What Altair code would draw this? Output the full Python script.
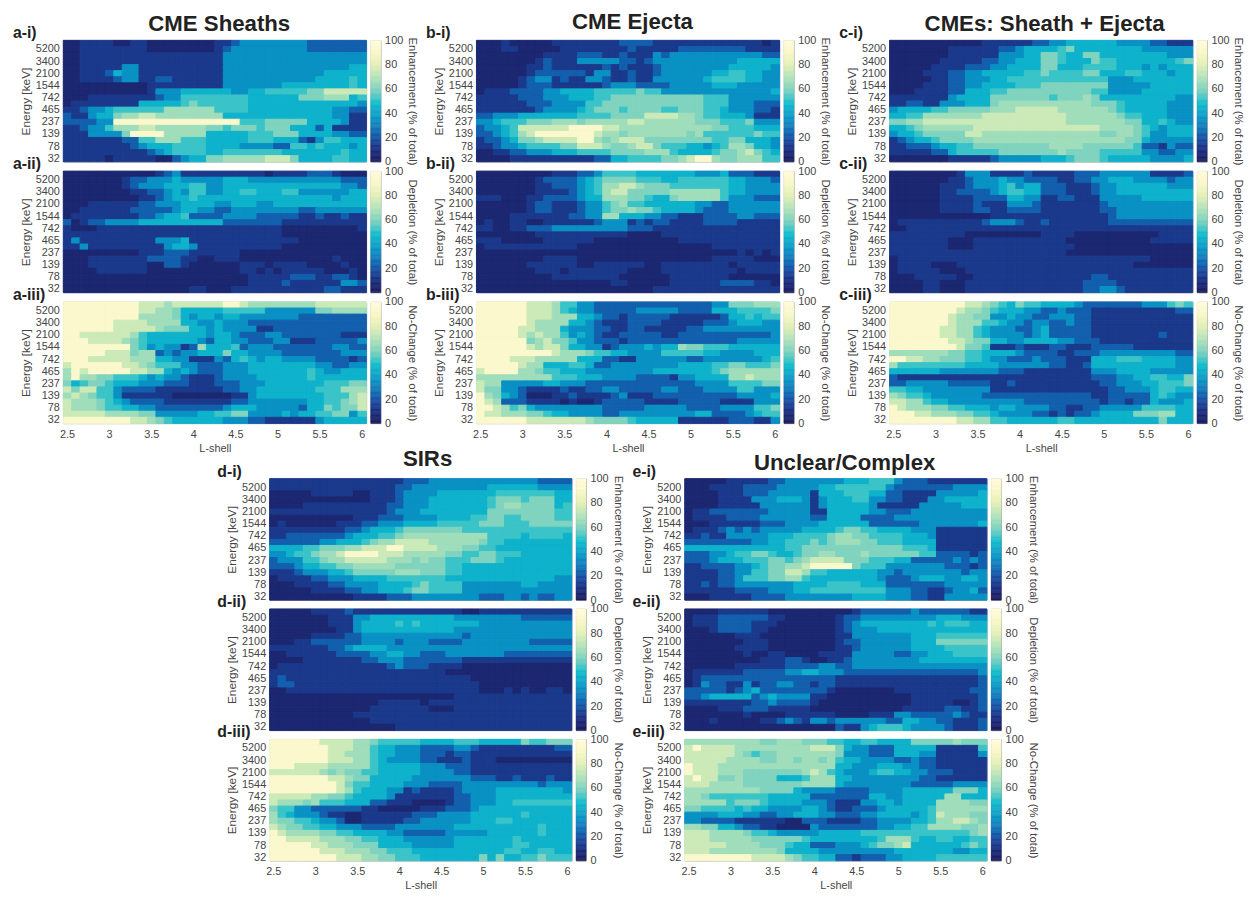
import altair as alt
import pandas as pd

LSHELL = [f"{2.5 + 0.1 * i:.1f}" for i in range(36)]
ENERGY = ["32","54","78","108","139","183","237","346","465","597","742","1079","1544","1728","2100","2600","3400","4200","5200","6300"]
ENERGY_TICKS = ["32","78","139","237","465","742","1544","2100","3400","5200"]
LSHELL_TICKS = ["2.5","3.0","3.5","4.0","4.5","5.0","5.5","6.0"]

# rows run from the highest energy to the lowest; each digit is a percent level
LEVEL_PERCENT = [6, 13, 23, 35, 45, 52, 60, 66, 75, 92]
A_I = [
"001111001100000000112333333332222222",
"001111111100000000123333333332222222",
"001111111111111111133333333333333333",
"001111111111111111133333333333333333",
"001111133111111111133333333333333344",
"001112433111111111133333333333344444",
"001111233112211111133333333333444454",
"000000000011111111133333334444444454",
"000000000013334444443344555556688888",
"000111111112335555555544444466677745",
"011111111444445655555544444444444443",
"112334555555777777555544444444443322",
"211344677887777777744444444444443311",
"222233999999999999999555666664444311",
"112335777887777776656665666444241111",
"111333369999777774444455566644443322",
"111111122557775554444455544421355444",
"111111112344455554444333322554544434",
"111111111123455554455555554444444544",
"111110111110023446677777888644445544",
]
A_II = [
"000000000001231111111111011112221000",
"000000012233343333344433333333333222",
"000000012333444553344444444444444332",
"000000001122343553344554445533333344",
"000000000112344544444444444444443444",
"000111111223334444334443344444444444",
"001111112222234433223333333322333333",
"011111111223445222233332222211211211",
"201223333444444444422222221111111111",
"100011111111111111111111110000000001",
"111111111111111111111111110000000000",
"131111111113334111111111111100000000",
"113111111111344311111111110000000000",
"000000000111222111111000000000000000",
"000111111122221100111000000000001000",
"000111111100221000000111011110000100",
"000011111100000000000110101111100010",
"000000000000000000000011111222112210",
"000000000000000000000011112111111332",
"000000000000000110001111111111122111",
]
A_III = [
"999999999888788888899877777777888888",
"999999999887764444455555333333667777",
"999999999777764344344333333322222222",
"999999888877774433433322222222222222",
"999999888887666443433331122222222222",
"998888887544444443443222332222222111",
"999888876544444432443322233111222223",
"999999996534331274445233322222223322",
"999998886772323344464433332222222333",
"999888887774433111324543443333222212",
"899999988765553322233344444444332233",
"798999998877434322233344444445433444",
"797766555434332111233334444445444444",
"645665444333222111222333444444455566",
"868855322221111111122334444444555777",
"787655311111100000001134444444455578",
"877765432222111111112233333334455678",
"877765544332222222234443333324465668",
"888887777663333344556633334344556635",
"999999998876544444433322111111344444",
]
B_I = [
"000100000111111112222111111111111101",
"000110000011111111211111222222221111",
"000000001111222112111323333333333322",
"000000012111333332212333333333344444",
"000000112111111212111233333333444443",
"000000122222213311211233333344554433",
"000001233121133211211333333455554433",
"000001222111111233322223333344433333",
"011122223344445555565533333333333334",
"111112223334445566666666666555333333",
"111111222333355666666666666555333222",
"111111123333456665666655666554333221",
"223334444444555566668888776554443111",
"334555666777677777887777776665556333",
"233458888889999887777777777766555444",
"223457899999998776777777767555555655",
"122346678888997678886666666655664443",
"112334555566888766788655544345776443",
"001122333444555566667775444456678654",
"000011111111112244555566789976677755",
]
B_II = [
"000000000111223555544444443334222111",
"000000012222345666655544555555443332",
"000000011222345778876665555555443333",
"000000011112345788666667777775443333",
"111000112222344777665446777775333222",
"000000122111233567554444443322333333",
"000000122111233566766544443222333333",
"000011111112233774443322111222233222",
"010011001111112333121221111222211111",
"110011222333333333222111111111111111",
"000000011111111111000011111111111111",
"111000001111110000000000111111111111",
"011111111111000000000000000011111111",
"000000000000000000000000000000010101",
"000000001111000000000000000011111000",
"000000111111001111110011111111011111",
"000000011101111111000011111111101111",
"000000000111111110000001111111000000",
"000000000000000011000001111112222110",
"000000000000000000000111111111111111",
]
B_III = [
"999999888755332222222222222233666777",
"999999888754332222233333222244455556",
"999999888777443221222221111112445455",
"999999877774432111222211111222344433",
"999998877743332211221111122333333333",
"999998787753432112222211222222222223",
"999999678665332221222222222222233333",
"999999878864433123334344766555444444",
"999999999877765544333355555443333444",
"999988877777444221133333322333333345",
"999998774445542233333333444455665556",
"899997765544433333333444444456777777",
"777777777555444333322221334444778777",
"877333334433322222222222223333555566",
"866332111121122332222233222333355333",
"976432000112111123111222222222233334",
"987222111101001222221111222221111333",
"998756433333333222223333322223333556",
"988777665443333223333333334422223455",
"999999888888876666544444111111222113",
]
C_I = [
"000000000001111112233444444333322111",
"000000011111122344445644444444333333",
"000000011111133344665446644444444333",
"000000111112233444665444655444444456",
"000001111222334444664445555444343444",
"000011122334444455655556644455444344",
"000001122333445555555555553334444444",
"000011122334444555666666663333344444",
"000111122444556666666666553333444444",
"111111134444666666656667644444444433",
"112211333444677777777777666544444333",
"344445566666777888887777776544444333",
"445577777778888888888777777655444333",
"667788888888888888888777777766445433",
"445677777788888888888888877776543444",
"344566666887777777777777766776533444",
"123445666677777777777777777766433333",
"112223445566666666677776666665221322",
"111112245555566666667666655555332233",
"000000011111233333444566654444433334",
]
C_II = [
"000000001333111121111122233333311112",
"000000011233343322221122334443333233",
"000000111233345344222111233444444333",
"000000112222345544222111233444444444",
"000000111122224433112211133333444444",
"000000111121113332111111123333333333",
"000000111122112222111111122333333333",
"000000000000111111111111112333333333",
"011111111112333211211111112222222222",
"001111111111111111111111111111111111",
"111111111000000000111100000000001111",
"111111100011111111111000000000011111",
"111111100011111111111100000000000000",
"111111111111111111111000000000000000",
"011111111111111111111111111111100000",
"011110001111111111111111111110000000",
"011111000111111111111111111111111111",
"000111110011111111111111221111111111",
"000011000111111111111112222111111111",
"000011000111111111111112233211111111",
]
C_III = [
"999999999887654655444432222222333565",
"999999998776544433223222111111111122",
"999999987766334332233322111111111111",
"999999987775543323322322111111111111",
"999999887754333223422222111111111111",
"999999887754333323422222111111112111",
"999999988766443344443322211111111111",
"999999998665111211122111222221111111",
"777777766554444322221122233333333322",
"998877666554332223222111444555444433",
"755555555444433333322112444444444433",
"444444333333322211111111333444433333",
"211111111111111111111111222334455446",
"223333322222112111111111122333445556",
"554433333333111111111111112233345544",
"765543333332222222222222112222245433",
"887754433333333322222222212212243334",
"987776655444344333322112233333555544",
"999887776655433332212122344446667744",
"999999998877554444445544444444446444",
]
D_I = [
"111111111111111122233333333333332222",
"111111111111111223333333334444443333",
"000001111100111233334444444555555544",
"000000000000111233344444445666566644",
"000011111111112233344444445677666645",
"111111111111112333444444446666666655",
"000000000011122233334444556655666655",
"010000001112233344445555566655566666",
"111111111223444566666665555555555555",
"112222222344455677777777775555455554",
"222222334445677888877777765544444444",
"444455666778889988887776655444444444",
"334556778999988877777665566555444444",
"233355677888887776766555666544444444",
"222344556677777666666554444444444444",
"111233344566666777666554444444444444",
"011112233344445555555444444444444433",
"000111122333344445655553333333443333",
"000001111223344456655553333333333333",
"000000000011112223333333322233232233",
]
D_II = [
"000001111211111111111110011111111111",
"000000011133444444444433333333222222",
"000000011134444545444444433333333333",
"000000001134444444444433333333333333",
"000001111223333333333332333333333333",
"000112222223333233322223333333322222",
"111111122344443333333333333333333333",
"001111112222334433222333333322222222",
"000011111112233322222221111111111111",
"011111111111112322211110000000000000",
"111111111111111111111000000000000000",
"121111111111111111111111000000000000",
"122111111111111111111111100000000000",
"001111111111111111111111100010100110",
"000000000000000000000011111111111111",
"000000000000011111011111111111111111",
"000000000000111111100011111111111111",
"000000000011111111111111111111111111",
"000000000000111111111111111111111111",
"000000000000000111111111111111111111",
]
D_III = [
"999999888877655555444455544444655666",
"999999988877544333222233211111111122",
"999999988777544333222122111111111111",
"999999988877543333221112111000000000",
"999888877777544444333222111111111111",
"888888767665544444333322111111111111",
"999999988766444443333333222112111211",
"999999998655444433322223333333332333",
"999999998754443312111123333444444443",
"888887766544443111111122333444444444",
"877767555444221110000122333445555555",
"655332222221100000111222344444444444",
"754333211001111112223333444444544444",
"766554332001111122333333444554444444",
"876655443332222333333344444444445444",
"987777665544443322222333334444445444",
"998888777665544433333344444445444444",
"999998877766644443333344444445544444",
"999999888777665554444444444455445544",
"999999998887766555444444464644556555",
]
E_I = [
"000001111122333333344455532221111111",
"000111122223333344555555322222223333",
"000011122233333144455544221111333334",
"000011113334443134445533221113344444",
"000011111333333134444431111133333444",
"011222222233333114444433222333333333",
"011112222333333224444222233333333333",
"000111111222333344444422222233333334",
"011123232333334444566554444333111111",
"112113333344455556776655554443111111",
"222222223344555656777665554444111111",
"444444444444556666666666665554111111",
"222334556654456677666766666655222212",
"222344455566567888866655544222223232",
"112222334566778999996555333333322212",
"111122335566887554444443323333333233",
"111122355566775444444443222344433443",
"112122333333344445555444222222233333",
"111111222233344555555555333221123342",
"000111112222333333334444333221133333",
]
E_II = [
"000011111100000000001222222322222211",
"011122222211000000122333333333444333",
"011122221110000000123444444445455544",
"000122221100000000123334444444444444",
"000000111000000000113333333444555555",
"000000011100000000122333333444666666",
"000000111100000000112333333444455555",
"000000010011000011113333322334445555",
"000000000111221001123333333344444444",
"000000111111222233223333333333333333",
"011111122222334433322222222222222223",
"012222222222222222111111111111111112",
"013221131223322122111111111111111112",
"222221234222222221000000011111111122",
"223444442343333110000000000111111112",
"111111112232222100000000000111110012",
"000011122211111000000000001111122112",
"000000010000111111000011133222223211",
"000100000112321332333333224433221112",
"000000000000000000211345554333321112",
]
E_III = [
"777777777667776665544554444666667666",
"898888777777777888643322244444111115",
"888888765667777777633322244433111113",
"888887777667767767544333322322111111",
"988877777777777777443334443322111111",
"988877766666667875433345544332221111",
"898866766664445777443333333322111111",
"888777766666667777433333333222223333",
"777777777666643333222233334444446664",
"776555555544444222222244334444477444",
"777775666544443332111334434444777766",
"665555454433334432112223444445777777",
"333344433223344433222334444345877766",
"332222111111002221111223333445778876",
"776644322110000322222223344557777667",
"888777765543333344444555555555555567",
"888777776666665444444445777544554455",
"888887777666544222333456678444444565",
"888777777776444433333333344444443344",
"999999998888765544221222334444555555",
]

PANELS = {
    "a-i": A_I, "a-ii": A_II, "a-iii": A_III,
    "b-i": B_I, "b-ii": B_II, "b-iii": B_III,
    "c-i": C_I, "c-ii": C_II, "c-iii": C_III,
    "d-i": D_I, "d-ii": D_II, "d-iii": D_III,
    "e-i": E_I, "e-ii": E_II, "e-iii": E_III,
}
BAR_TITLES = ["Enhancement (% of total)", "Depletion (% of total)", "No-Change (% of total)"]
COLUMN_TITLES = {"a": "CME Sheaths", "b": "CME Ejecta", "c": "CMEs: Sheath + Ejecta", "d": "SIRs", "e": "Unclear/Complex"}
TITLE_POS = {"a": (158, -16), "b": (158, -18), "c": (157, -16), "d": (160, -20), "e": (162, -16)}
LABEL_DX = {"a": -51, "b": -51, "c": -51, "d": -53, "e": -53}
COLOR_STOPS = [0, 10, 20, 30, 40, 50, 60, 70, 80, 90, 100]
COLOR_HEX = ["#1b1c5c", "#1b2e80", "#1a52a5", "#1a7fbd", "#17a3c8", "#1cc0cc", "#80d3be", "#b5e3bb", "#e3efb8", "#f8f7c8", "#fffbdc"]
BAR_LEVELS = list(range(100))

FONT = "Liberation Sans"
TXT = "#444444"
SCALE = alt.Scale(domain=COLOR_STOPS, range=COLOR_HEX)
W, H = 307, 123


def long_table(rows):
    out = []
    for e, row in zip(reversed(ENERGY), rows):
        row = row.ljust(36, row[-1])[:36]
        for l, d in zip(LSHELL, row):
            out.append({"L": l, "E": e, "v": LEVEL_PERCENT[int(d)]})
    return pd.DataFrame(out)


def panel(name, w, idx):
    col = name[0]
    bottom = idx == 2
    x_axis = alt.Axis(
        values=LSHELL_TICKS, title="L-shell", labelAngle=0, ticks=False, domain=False,
        labelExpr="replace(datum.value, '.0', '')", labelPadding=5, titlePadding=3,
        labelFont=FONT, titleFont=FONT, labelFontSize=11, titleFontSize=11,
        titleFontWeight="normal", labelColor=TXT, titleColor=TXT,
    ) if bottom else None
    heat = alt.Chart(long_table(PANELS[name])).mark_rect(strokeWidth=1).encode(
        x=alt.X("L:O", scale=alt.Scale(domain=LSHELL, paddingInner=0, paddingOuter=0), axis=x_axis),
        y=alt.Y("E:O", scale=alt.Scale(domain=ENERGY[::-1], paddingInner=0, paddingOuter=0), axis=alt.Axis(
            values=ENERGY_TICKS, title="Energy [keV]", ticks=False, domain=False, labelPadding=4,
            titlePadding=3, labelOverlap=False, labelFont=FONT, titleFont=FONT, labelFontSize=11,
            titleFontSize=12, titleFontWeight="normal", labelColor=TXT, titleColor=TXT,
        )),
        color=alt.Color("v:Q", scale=SCALE, legend=None),
        stroke=alt.Stroke("v:Q", scale=SCALE, legend=None),
    )
    label = alt.Chart(pd.DataFrame({"t": [name + ")"]})).mark_text(
        font=FONT, fontSize=16, fontWeight="bold", align="left", baseline="middle", color="#222222",
    ).encode(x=alt.value(LABEL_DX[col]), y=alt.value(-7), text="t:N")
    layers = [heat, label]
    if idx == 0:
        tx, ty = TITLE_POS[col]
        layers.append(alt.Chart(pd.DataFrame({"t": [COLUMN_TITLES[col]]})).mark_text(
            font=FONT, fontSize=22.5, fontWeight="bold", align="center", baseline="middle", color="#222222",
        ).encode(x=alt.value(tx), y=alt.value(ty), text="t:N"))
    return alt.layer(*layers).properties(width=w, height=H)


def colorbar(idx):
    t = pd.DataFrame({"v": BAR_LEVELS})
    return alt.Chart(t).transform_calculate(v2="datum.v + 1", c="datum.v + 0.5").mark_rect(strokeWidth=0.6).encode(
        x=alt.value(0), x2=alt.value(10),
        y=alt.Y("v:Q", scale=alt.Scale(domain=[0, 100], nice=False), axis=alt.Axis(
            orient="right", values=[0, 20, 40, 60, 80, 100], title=BAR_TITLES[idx], titleAngle=90,
            titleBaseline="middle", ticks=False, domain=False, grid=False, labelPadding=4, titlePadding=9,
            labelFont=FONT, titleFont=FONT, labelFontSize=11, titleFontSize=11.5, titleFontWeight="normal",
            labelColor=TXT, titleColor=TXT,
        )),
        y2="v2:Q",
        color=alt.Color("c:Q", scale=SCALE, legend=None),
        stroke=alt.Stroke("c:Q", scale=SCALE, legend=None),
    ).properties(width=10, height=H)


def spacer(w, h=H):
    return alt.Chart(pd.DataFrame({"s": [0]})).mark_point(opacity=0).encode(
        x=alt.value(0), y=alt.value(0)).properties(width=w, height=h, view=alt.ViewConfig(stroke=None))


def block(cols, gaps, w, row_gap):
    items = []
    for i in range(3):
        for j, c in enumerate(cols):
            items.append(panel(f"{c}-{'i' * (i + 1)}", w, i))
            items.append(colorbar(i))
            if j < len(gaps):
                items.append(spacer(gaps[j]))
    n = len(cols) * 2 + len(gaps)
    return alt.concat(*items, columns=n, bounds="flush",
                      spacing=alt.RowColnumber(row=row_gap, column=4.5))


top = block(["a", "b", "c"], [87.5, 87.5], W, 9.5)
bottom = block(["d", "e"], [91], 306, 9)
lower = alt.hconcat(spacer(155, 10), bottom, spacing=0)

chart = alt.vconcat(top, lower, spacing=-7).properties(
    padding={"left": 4, "top": -3, "right": 0, "bottom": 0}, background="white"
).configure_view(stroke="#8a8a8a", strokeWidth=0.8)

chart.save("out.html", embed_options={"renderer": "svg", "actions": False})
